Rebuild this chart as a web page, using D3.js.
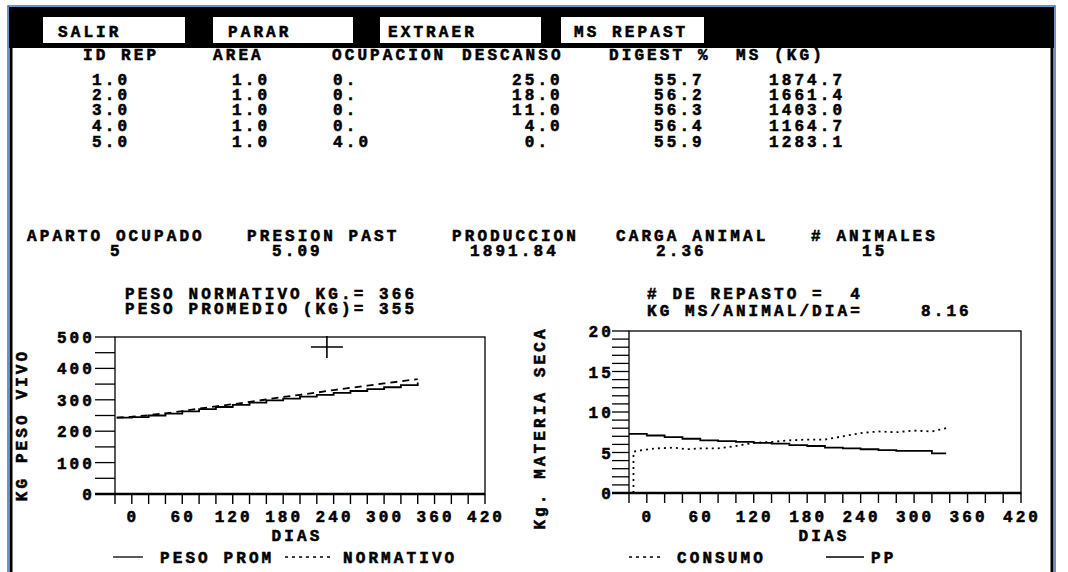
<!DOCTYPE html>
<html><head><meta charset="utf-8">
<script src="https://cdn.jsdelivr.net/npm/d3@7"></script>
<style>
html,body{margin:0;padding:0;background:#fff;}
svg text{font-family:"Liberation Mono","DejaVu Sans Mono",monospace;font-weight:bold;font-size:16px;fill:#000;stroke:#000;stroke-width:0.55px;letter-spacing:3.1px;white-space:pre;}
</style></head><body>
<svg id="c" width="1068" height="572"></svg>
<script>
// ---------- DATA ----------
const buttons = ["SALIR", "PARAR", "EXTRAER", "MS REPAST"];
const tableHeaders = ["ID REP", "AREA", "OCUPACION", "DESCANSO", "DIGEST %", "MS (KG)"];
const idRep = ["1.0", "2.0", "3.0", "4.0", "5.0"];
const area = ["1.0", "1.0", "1.0", "1.0", "1.0"];
const ocupacion = ["0.", "0.", "0.", "0.", "4.0"];
const descanso = ["25.0", "18.0", "11.0", " 4.0", " 0."];
const digest = ["55.7", "56.2", "56.3", "56.4", "55.9"];
const msKg = ["1874.7", "1661.4", "1403.0", "1164.7", "1283.1"];
const summaryLabels = ["APARTO OCUPADO", "PRESION PAST", "PRODUCCION", "CARGA ANIMAL", "# ANIMALES"];
const summaryValues = ["5", "5.09", "1891.84", "2.36", "15"];
const pesoNormativo = "366";
const pesoPromedio = "355";
const numRepasto = "4";
const kgMsAnimalDia = "8.16";

const xTickLabels = [0, 60, 120, 180, 240, 300, 360, 420];
const yTickLabelsPeso = [0, 100, 200, 300, 400, 500];
const yTickLabelsMs = [0, 5, 10, 15, 20];

// left chart: live weight
const pesoDays = [-18, 0, 20, 40, 60, 80, 100, 120, 140, 160, 180, 200, 220, 240, 260, 280, 300, 320, 340];
const pesoProm = [243, 245, 250, 256, 263, 270, 277, 284, 291, 298, 304, 310, 316, 322, 328, 334, 340, 347, 355];
const normativo = [243, 246, 251, 257, 264, 272, 279, 286, 293, 301, 309, 316, 323, 331, 338, 345, 352, 359, 366];
const cursorPoint = [232, 468];

// right chart: dry matter
const ppDays = [-20, 0, 20, 40, 60, 80, 100, 120, 140, 160, 180, 200, 220, 240, 260, 280, 300, 320, 336];
const pp = [7.3, 7.1, 6.9, 6.7, 6.5, 6.4, 6.3, 6.2, 6.1, 5.9, 5.8, 5.6, 5.5, 5.4, 5.3, 5.2, 5.2, 4.9, 4.9];
const consumoDays = [-15, -15, -5, 10, 30, 45, 60, 80, 100, 120, 140, 160, 180, 200, 220, 240, 260, 280, 300, 320, 336];
const consumo = [0, 5.1, 5.3, 5.5, 5.6, 5.4, 5.5, 5.5, 5.8, 6.2, 6.3, 6.5, 6.6, 6.6, 7.0, 7.4, 7.6, 7.5, 7.7, 7.6, 8.0];

// ---------- DRAW ----------
const svg = d3.select("#c");

// window frame
svg.append("rect").attr("x", 8).attr("y", 6).attr("width", 1047).attr("height", 570)
  .attr("fill", "#fff").attr("stroke", "#3a6fb0").attr("stroke-width", 1.5);
svg.append("rect").attr("x", 9).attr("y", 7).attr("width", 1045).attr("height", 41).attr("fill", "#000");
svg.append("rect").attr("x", 9.5).attr("y", 7).attr("width", 3).attr("height", 570).attr("fill", "#000");
svg.append("rect").attr("x", 1050.5).attr("y", 7).attr("width", 3).attr("height", 570).attr("fill", "#000");

// buttons
const btnBox = [[43, 185], [213, 353], [380, 541], [561, 704]];
const btnTextX = [58, 228, 388, 574];
buttons.forEach((b, i) => {
  svg.append("rect").attr("x", btnBox[i][0]).attr("y", 17).attr("width", btnBox[i][1] - btnBox[i][0]).attr("height", 26).attr("fill", "#fff");
  svg.append("text").attr("x", btnTextX[i]).attr("y", 37).text(b);
});

// table
const headerX = [83, 213, 332, 462, 609, 736];
const colX = [92, 232, 333, 512, 654, 769];
const rowY = [85, 100, 115, 131, 147];
tableHeaders.forEach((h, i) => svg.append("text").attr("x", headerX[i]).attr("y", 60).text(h));
[idRep, area, ocupacion, descanso, digest, msKg].forEach((col, c) => {
  col.forEach((v, r) => svg.append("text").attr("x", colX[c]).attr("y", rowY[r]).text(v));
});

// summary
const sumLabX = [27, 247, 452, 616, 811];
const sumValX = [110, 272, 470, 656, 862];
summaryLabels.forEach((s, i) => svg.append("text").attr("x", sumLabX[i]).attr("y", 241).text(s));
summaryValues.forEach((s, i) => svg.append("text").attr("x", sumValX[i]).attr("y", 256).text(s));

svg.append("text").attr("x", 125).attr("y", 299).text("PESO NORMATIVO KG.= " + pesoNormativo);
svg.append("text").attr("x", 125).attr("y", 314).text("PESO PROMEDIO (KG)= " + pesoPromedio);
svg.append("text").attr("x", 647).attr("y", 299).text("# DE REPASTO =  " + numRepasto);
svg.append("text").attr("x", 647).attr("y", 316).text("KG MS/ANIMAL/DIA=");
svg.append("text").attr("x", 921).attr("y", 316).text(kgMsAnimalDia);

// chart helper
function chart(cfg) {
  const x = d3.scaleLinear().domain([-20, 420]).range(cfg.xr);
  const y = d3.scaleLinear().domain(cfg.yd).range(cfg.yr);
  const g = svg.append("g");
  g.append("rect").attr("x", cfg.xr[0]).attr("y", cfg.yr[1]).attr("width", cfg.xr[1] - cfg.xr[0])
    .attr("height", cfg.yr[0] - cfg.yr[1]).attr("fill", "none").attr("stroke", "#000").attr("stroke-width", 1.3);
  cfg.yMinor.forEach(v => g.append("line").attr("x1", cfg.tickX0).attr("x2", cfg.xr[0])
    .attr("y1", y(v)).attr("y2", y(v)).attr("stroke", "#000").attr("stroke-width", 1.3));
  cfg.yLabels.forEach(v => g.append("text").attr("x", cfg.labX).attr("y", y(v) + 6)
    .attr("text-anchor", "end").text(v));
  g.append("line").attr("x1", cfg.tickX0).attr("x2", cfg.xr[1]).attr("y1", cfg.yr[0]).attr("y2", cfg.yr[0])
    .attr("stroke", "#000").attr("stroke-width", 2.6);
  d3.range(-20, 421, 20).forEach(d => g.append("line").attr("x1", x(d)).attr("x2", x(d))
    .attr("y1", cfg.yr[0]).attr("y2", cfg.yr[0] + 10).attr("stroke", "#000").attr("stroke-width", 1.4));
  xTickLabels.forEach(d => g.append("text").attr("x", x(d) + 1).attr("y", 522).attr("text-anchor", "middle").text(d));
  g.append("text").attr("x", cfg.diasX).attr("y", 541).attr("text-anchor", "middle").text("DIAS");
  g.append("text").attr("transform", `translate(${cfg.titleX},${cfg.titleY}) rotate(-90)`)
    .attr("text-anchor", "middle").text(cfg.title);
  cfg.series.forEach(s => {
    const line = d3.line().x(d => x(d[0])).y(d => y(d[1])).curve(s.curve || d3.curveLinear);
    g.append("path").datum(s.days.map((d, i) => [d, s.values[i]])).attr("d", line)
      .attr("fill", "none").attr("stroke", "#000").attr("stroke-width", s.width)
      .attr("stroke-dasharray", s.dash || null);
  });
  return {x, y, g};
}

const left = chart({
  xr: [115, 485], yd: [0, 500], yr: [494, 337], tickX0: 95, labX: 95,
  yMinor: d3.range(0, 501, 50), yLabels: yTickLabelsPeso,
  diasX: 297, titleX: 27, titleY: 425, title: "KG PESO VIVO",
  series: [
    {days: pesoDays, values: pesoProm, width: 1.8, curve: d3.curveStepAfter},
    {days: pesoDays, values: normativo, width: 1.8, dash: "7,5"}
  ]
});
const cx = left.x(cursorPoint[0]), cy = left.y(cursorPoint[1]);
left.g.append("line").attr("x1", cx - 16).attr("x2", cx + 16).attr("y1", cy).attr("y2", cy).attr("stroke", "#000").attr("stroke-width", 1.6);
left.g.append("line").attr("x1", cx).attr("x2", cx).attr("y1", cy - 11).attr("y2", cy + 11).attr("stroke", "#000").attr("stroke-width", 1.6);

const right = chart({
  xr: [629, 1021], yd: [0, 20], yr: [493, 331], tickX0: 612, labX: 614,
  yMinor: d3.range(0, 21, 1), yLabels: yTickLabelsMs,
  diasX: 824, titleX: 545, titleY: 428, title: "Kg. MATERIA SECA",
  series: [
    {days: ppDays, values: pp, width: 1.8, curve: d3.curveStepAfter},
    {days: consumoDays, values: consumo, width: 1.8, dash: "2,4"}
  ]
});

function legendLine(x1, x2, dash) {
  svg.append("line").attr("x1", x1).attr("x2", x2).attr("y1", 557).attr("y2", 557)
    .attr("stroke", "#000").attr("stroke-width", 1.3).attr("stroke-dasharray", dash || null);
}
legendLine(113, 143);
svg.append("text").attr("x", 160).attr("y", 563).text("PESO PROM");
legendLine(285, 333, "3,4");
svg.append("text").attr("x", 343).attr("y", 563).text("NORMATIVO");
legendLine(629, 662, "3,4");
svg.append("text").attr("x", 677).attr("y", 563).text("CONSUMO");
legendLine(826, 864);
svg.append("text").attr("x", 871).attr("y", 563).text("PP");
</script>
</body></html>
